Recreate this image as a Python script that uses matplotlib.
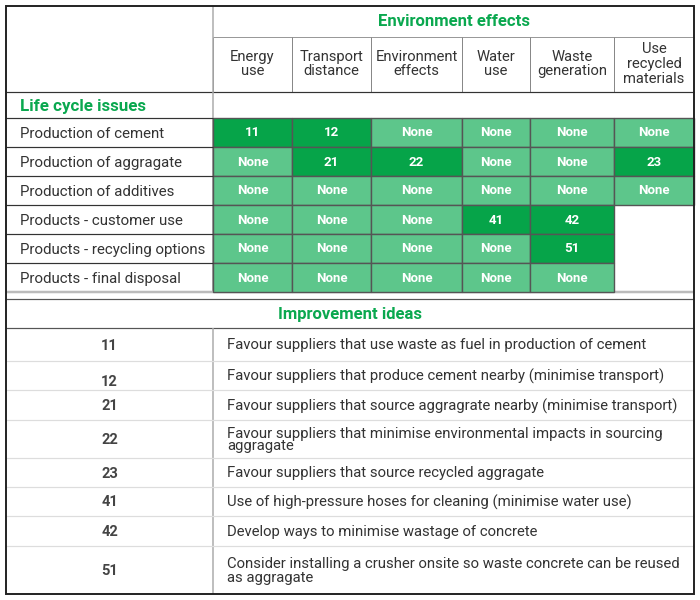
import matplotlib.pyplot as plt
from matplotlib.patches import Rectangle

plt.rcParams['font.family'] = ['Roboto', 'DejaVu Sans']

title_top = "Environment effects"
title_rows = "Life cycle issues"
title_ideas = "Improvement ideas"

effects = ["Energy\nuse", "Transport\ndistance", "Environment\neffects",
           "Water\nuse", "Waste\ngeneration", "Use\nrecycled\nmaterials"]
issues = ["Production of cement", "Production of aggragate",
          "Production of additives", "Products - customer use",
          "Products - recycling options", "Products - final disposal"]
# idea number per cell, "None" where the source shows None, None where the cell is empty
cells = [
    [11, 12, "None", "None", "None", "None"],
    ["None", 21, 22, "None", "None", 23],
    ["None", "None", "None", "None", "None", "None"],
    ["None", "None", "None", 41, 42, None],
    ["None", "None", "None", "None", 51, None],
    ["None", "None", "None", "None", "None", None],
]
idea_ids = [11, 12, 21, 22, 23, 41, 42, 51]
idea_texts = [
    "Favour suppliers that use waste as fuel in production of cement",
    "Favour suppliers that produce cement nearby (minimise transport)",
    "Favour suppliers that source aggragrate nearby (minimise transport)",
    "Favour suppliers that minimise environmental impacts in sourcing\naggragate",
    "Favour suppliers that source recycled aggragate",
    "Use of high-pressure hoses for cleaning (minimise water use)",
    "Develop ways to minimise wastage of concrete",
    "Consider installing a crusher onsite so waste concrete can be reused\nas aggragate",
]

GREEN_TXT = "#0aa84f"
DARK = "#06a449"
LIGHT = "#5dc68b"
TXT = "#333333"

# layout in pixels
L, R, T, B = 6, 694, 6, 594
xs = [213, 292, 371, 462, 530, 614, 694]
row_y = [118, 147, 176, 205, 234, 263, 292]
idea_y = [328, 361, 390, 420, 458, 487, 516, 546, 594]
idea_num_dy = [0, 5, 0, 0, 0, 0, 0, 0]
idea_spacing = [1, 1, 1, 0.85, 1, 1, 1, 1.05]
DY = 1.5  # small downward nudge for single-line text

fig = plt.figure(figsize=(7, 6), dpi=100)
ax = fig.add_axes([0, 0, 1, 1])
ax.set_xlim(0, 700)
ax.set_ylim(600, 0)
ax.axis("off")


def hline(y, x0, x1, c, lw=1.0, z=3):
    ax.plot([x0, x1], [y, y], color=c, lw=lw * 0.72, zorder=z, solid_capstyle="butt")


def vline(x, y0, y1, c, lw=1.0, z=3):
    ax.plot([x, x], [y0, y1], color=c, lw=lw * 0.72, zorder=z, solid_capstyle="butt")


# header
ax.text((xs[0] + R) / 2, 21, title_top, ha="center", va="center",
        fontsize=12, fontweight="bold", color=GREEN_TXT)
hline(36.5, xs[0], R, "#999999")
for j, lab in enumerate(effects):
    x0, x1 = xs[j], xs[j + 1]
    vline(x0, 36.5, 92, "#888888")
    ax.text((x0 + x1) / 2, 64, lab, ha="center", va="center",
            fontsize=10.6, color=TXT, linespacing=1.08)
hline(92, L, R, "#333333", 1.2)
ax.text(20, 105 + DY, title_rows, ha="left", va="center",
        fontsize=12.2, fontweight="bold", color=GREEN_TXT)
vline(xs[0], T, 118, "#aaaaaa", 1.5)

# matrix cells
for i, lab in enumerate(issues):
    y0, y1 = row_y[i], row_y[i + 1]
    ax.text(20, (y0 + y1) / 2 + DY, lab, ha="left", va="center", fontsize=10.8, color=TXT)
    hline(y0, L, xs[0], "#333333", 1.2)
    for j, v in enumerate(cells[i]):
        if v is None:
            continue
        x0, x1 = xs[j], xs[j + 1]
        fc = LIGHT if v == "None" else DARK
        ax.add_patch(Rectangle((x0, y0), x1 - x0, y1 - y0, facecolor=fc,
                               edgecolor="#555555", lw=1.0, zorder=2))
        ax.text((x0 + x1) / 2, (y0 + y1) / 2 + 0.5, str(v), ha="center", va="center",
                fontsize=9.5, fontweight="bold", color="white", zorder=4)
vline(xs[0], 118, 292, "#888888", 1.5, z=1)
hline(292, L, R, "#bbbbbb", 2.5, z=1)

# improvement ideas
hline(299, L, R, "#555555", 1.2)
ax.text((L + R) / 2, 313 + DY, title_ideas, ha="center", va="center",
        fontsize=12, fontweight="bold", color=GREEN_TXT)
hline(328, L, R, "#555555", 1.2)
vline(xs[0], 328, B, "#aaaaaa", 1.5)
for k, (num, txt) in enumerate(zip(idea_ids, idea_texts)):
    y0, y1 = idea_y[k], idea_y[k + 1]
    if k > 0:
        hline(y0, L, R, "#dddddd", 1.2)
    ax.text((L + xs[0]) / 2, (y0 + y1) / 2 + idea_num_dy[k] + 1, str(num),
            ha="center", va="center", fontsize=10.5, fontweight="bold", color="#444444")
    ax.text(227, (y0 + y1) / 2 + 1, txt, ha="left", va="center",
            fontsize=10.7, color=TXT, linespacing=idea_spacing[k])

# outer border
ax.add_patch(Rectangle((L, T), R - L, B - T, facecolor="none",
                       edgecolor="#222222", lw=1.4, zorder=5))

fig.savefig("out.png", dpi=100, facecolor="white")
